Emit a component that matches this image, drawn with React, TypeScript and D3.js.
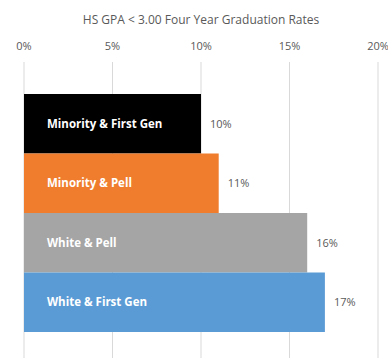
import React from "react";
import * as d3 from "d3";

const categories = ["Minority & First Gen", "Minority & Pell", "White & Pell", "White & First Gen"];
const values = [10, 11, 16, 17];
const colors = ["#000000", "#ef7d2d", "#a5a5a5", "#5b9bd5"];
const ticks = [0, 5, 10, 15, 20];
const title = "HS GPA < 3.00 Four Year Graduation Rates";

export default function App() {
  const W = 388, H = 358;
  const x = d3.scaleLinear().domain([0, 20]).range([24, 378]);
  const y = d3.scaleBand<string>().domain(categories).range([94, 332]).paddingInner(0).paddingOuter(0);
  const font = "Open Sans, Liberation Sans, sans-serif";
  return (
    <svg width={W} height={H} style={{ position: "absolute", left: 0, top: 0, background: "#fff" }}>
      <text x={201} y={24} textAnchor="middle" fontSize={12} fill="#595959" fontFamily={font}>{title}</text>
      {ticks.map(t => (
        <g key={t}>
          <line x1={x(t)} x2={x(t)} y1={62} y2={H} stroke="#d9d9d9" strokeWidth={1} />
          <text x={x(t)} y={50} textAnchor="middle" fontSize={11} fill="#595959" fontFamily={font}>{t}%</text>
        </g>
      ))}
      {categories.map((c, i) => (
        <g key={c}>
          <rect x={x(0)} y={y(c)!} width={x(values[i]) - x(0)} height={y.bandwidth()} fill={colors[i]} />
          <text x={x(0) + 23} y={y(c)! + y.bandwidth() / 2 + 4} fontSize={11.5} fontWeight="bold" fill="#fff" fontFamily={font}>{c}</text>
          <text x={x(values[i]) + 9} y={y(c)! + y.bandwidth() / 2 + 4} fontSize={11} fill="#595959" fontFamily={font}>{values[i]}%</text>
        </g>
      ))}
    </svg>
  );
}
